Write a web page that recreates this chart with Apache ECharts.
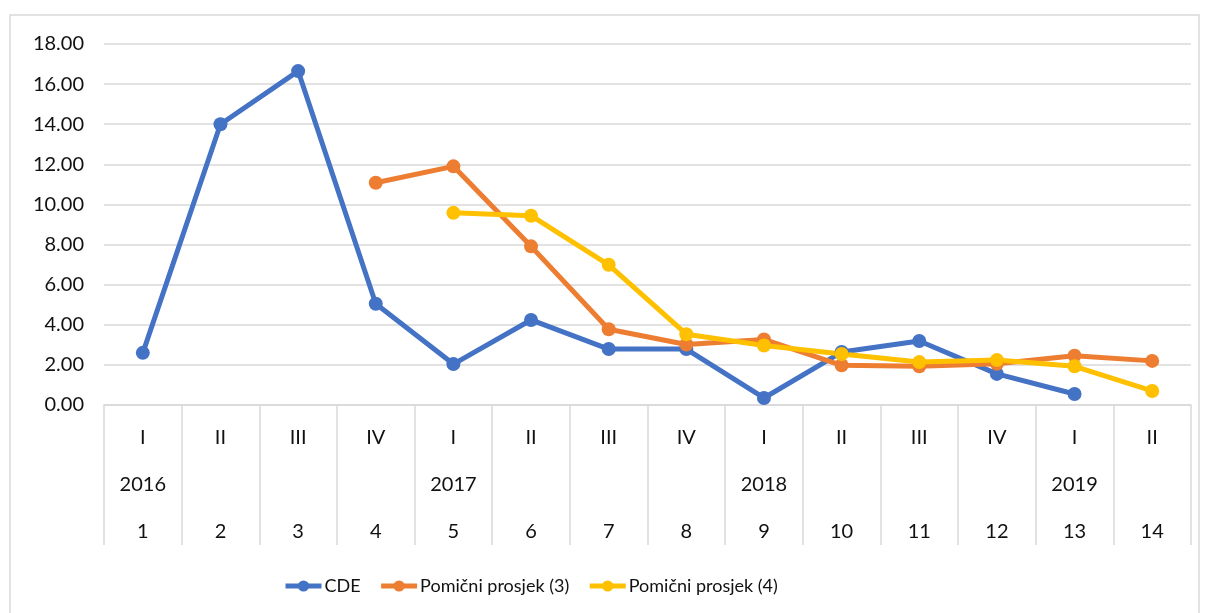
<!DOCTYPE html>
<html>
<head>
<meta charset="utf-8">
<script src="https://cdn.jsdelivr.net/npm/echarts@6/dist/echarts.min.js"></script>
<style>
  html, body { margin: 0; padding: 0; background: #fff; }
  #chart { width: 1208px; height: 613px; }
</style>
</head>
<body>
<div id="chart"></div>
<script>
const quarters = ['I', 'II', 'III', 'IV', 'I', 'II', 'III', 'IV', 'I', 'II', 'III', 'IV', 'I', 'II'];
const years = ['2016', '', '', '', '2017', '', '', '', '2018', '', '', '', '2019', ''];
const periods = ['1', '2', '3', '4', '5', '6', '7', '8', '9', '10', '11', '12', '13', '14'];

const cde = [2.6, 14.0, 16.65, 5.05, 2.04, 4.24, 2.79, 2.79, 0.35, 2.64, 3.19, 1.55, 0.55, null];
const ma3 = [null, null, null, 11.08, 11.9, 7.91, 3.78, 3.02, 3.27, 1.98, 1.93, 2.06, 2.46, 2.2];
const ma4 = [null, null, null, null, 9.58, 9.44, 6.99, 3.53, 2.97, 2.54, 2.14, 2.24, 1.93, 0.7];

const FONT = 'Lato, "Open Sans", sans-serif';
const chart = echarts.init(document.getElementById('chart'));

function lineSeries(name, data, color) {
  return {
    name, type: 'line', data,
    symbol: 'circle', symbolSize: 14,
    lineStyle: { width: 5, color },
    itemStyle: { color },
    connectNulls: false
  };
}

chart.setOption({
  animation: false,
  textStyle: { fontFamily: FONT },
  graphic: [{
    type: 'rect', shape: { x: 10, y: 15, width: 1189, height: 610 },
    style: { fill: 'none', stroke: '#d9d9d9', lineWidth: 1.5 }, silent: true
  }],
  grid: { left: 104, right: 17, top: 44, bottom: 208 },
  legend: {
    top: 572, left: 278, itemWidth: 36, itemHeight: 14, itemGap: 18,
    lineStyle: { width: 5 },
    textStyle: { fontSize: 18, color: '#111', fontFamily: FONT, padding: [0, 0, 0, -2] },
    data: ['CDE', 'Pomični prosjek (3)', 'Pomični prosjek (4)']
  },
  xAxis: {
    type: 'category',
    data: periods,
    boundaryGap: true,
    axisLine: { lineStyle: { color: '#d9d9d9', width: 1.5 } },
    axisTick: { show: true, length: 140, lineStyle: { color: '#d9d9d9', width: 1.5 } },
    axisLabel: {
      interval: 0, margin: 9, color: '#111', fontSize: 20, lineHeight: 47,
      formatter: (v, i) => `${quarters[i]}\n${years[i] || ' '}\n${v}`
    }
  },
  yAxis: {
    type: 'value', min: 0, max: 18, interval: 2,
    axisLine: { show: false }, axisTick: { show: false },
    splitLine: { lineStyle: { color: '#d9d9d9', width: 1.5 } },
    axisLabel: { color: '#111', fontSize: 20, margin: 20, formatter: v => v.toFixed(2) }
  },
  series: [
    lineSeries('CDE', cde, '#4472C4'),
    lineSeries('Pomični prosjek (3)', ma3, '#ED7D31'),
    lineSeries('Pomični prosjek (4)', ma4, '#FFC000')
  ]
});
</script>
</body>
</html>
